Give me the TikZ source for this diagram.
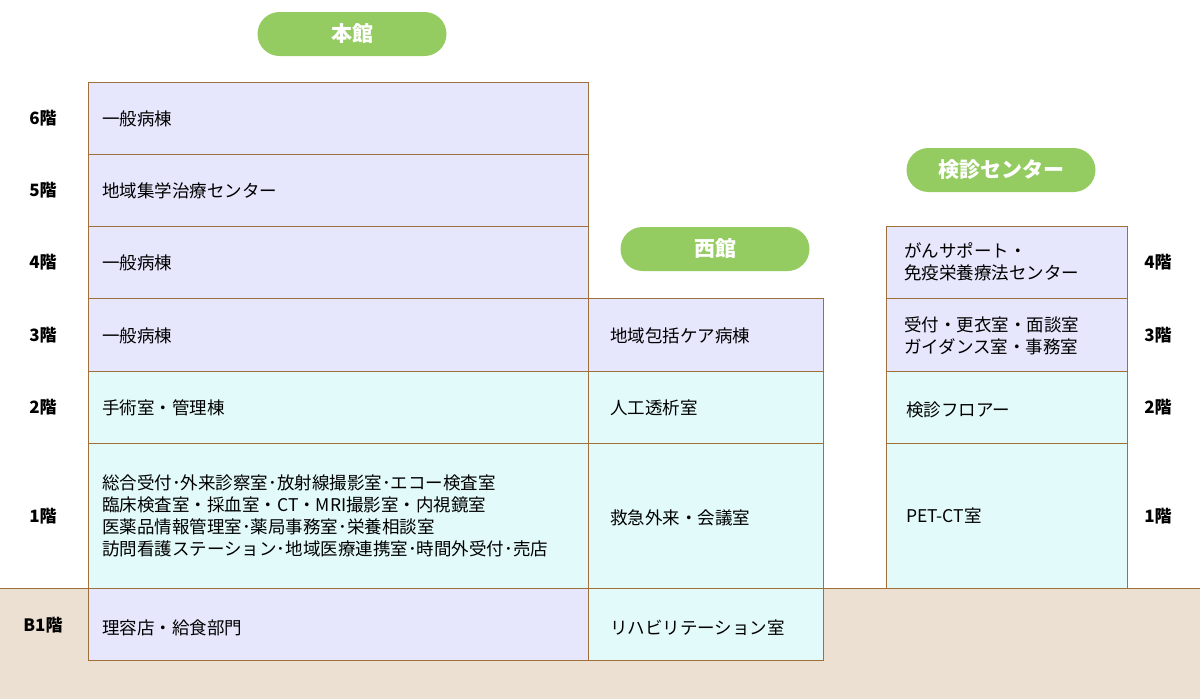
\documentclass[tikz,border=0pt]{standalone}
\usepackage{fontspec}
\setmainfont{Noto Sans CJK JP}
\definecolor{lav}{HTML}{E6E6FC}
\definecolor{cy}{HTML}{E3FAFA}
\definecolor{brn}{HTML}{A0703C}
\definecolor{grd}{HTML}{ECE0D3}
\definecolor{grn}{HTML}{95CC62}
\begin{document}
\begin{tikzpicture}[x=1pt,y=-1pt,
 room/.style={draw=brn,line width=1pt},
 lbl/.style={anchor=west,align=left,inner sep=0pt,font=\fontsize{17.5}{22}\selectfont},
 flr/.style={font=\fontsize{17}{18}\selectfont\bfseries},
 pill/.style={fill=grn,rounded corners=22pt,minimum width=189pt,minimum height=44pt,text=white,font=\fontsize{21}{22}\selectfont\bfseries}]
\useasboundingbox (0,0) rectangle (1200,699);
\fill[grd] (0,588) rectangle (1200,699);
\draw[brn,line width=1pt] (0,588) -- (1200,588);
\foreach \a/\b/\c in {82/154/lav,154/226/lav,226/298/lav,298/371/lav,371/443/cy,443/588/cy,588/660/lav}{
 \filldraw[room,fill=\c] (88,\a) rectangle (588,\b);}
\foreach \a/\b/\c in {298/371/lav,371/443/cy,443/588/cy,588/660/cy}{
 \filldraw[room,fill=\c] (588,\a) rectangle (823,\b);}
\foreach \a/\b/\c in {226/298/lav,298/371/lav,371/443/cy,443/588/cy}{
 \filldraw[room,fill=\c] (886,\a) rectangle (1127,\b);}
\node[pill] (p1) at (352,34) {本館};
\node[pill] (p2) at (715,249) {西館};
\node[pill] (p3) at (1001,170) {検診センター};
\node[lbl] (m6) at (102,119) {一般病棟};
\node[lbl] (m5) at (102,191) {地域集学治療センター};
\node[lbl] (m4) at (102,263) {一般病棟};
\node[lbl] (m3) at (102,336) {一般病棟};
\node[lbl] (m2) at (102,408) {手術室・管理棟};
\node[lbl] (m1) at (102,516) {総合受付･外来診察室･放射線撮影室･エコー検査室\\臨床検査室・採血室・CT・MRI撮影室・内視鏡室\\医薬品情報管理室･薬局事務室･栄養相談室\\訪問看護ステーション･地域医療連携室･時間外受付･売店};
\node[lbl] (mb) at (102,628) {理容店・給食部門};
\node[lbl] (w3) at (610,336) {地域包括ケア病棟};
\node[lbl] (w2) at (610,408) {人工透析室};
\node[lbl] (w1) at (610,518) {救急外来・会議室};
\node[lbl] (wb) at (610,628) {リハビリテーション室};
\node[lbl] (k4) at (904,262) {がんサポート・\\免疫栄養療法センター};
\node[lbl] (k3) at (904,336) {受付・更衣室・面談室\\ガイダンス室・事務室};
\node[lbl] (k2) at (906,410) {検診フロアー};
\node[lbl] (k1) at (906,516) {PET-CT室};
\foreach \y/\t in {118/6階,190/5階,262/4階,335/3階,407/2階,516/1階,625/B1階}{
 \node[flr] at (43,\y) {\t};}
\foreach \y/\t in {262/4階,335/3階,407/2階,516/1階}{
 \node[flr] at (1158,\y) {\t};}
\end{tikzpicture}
\end{document}
